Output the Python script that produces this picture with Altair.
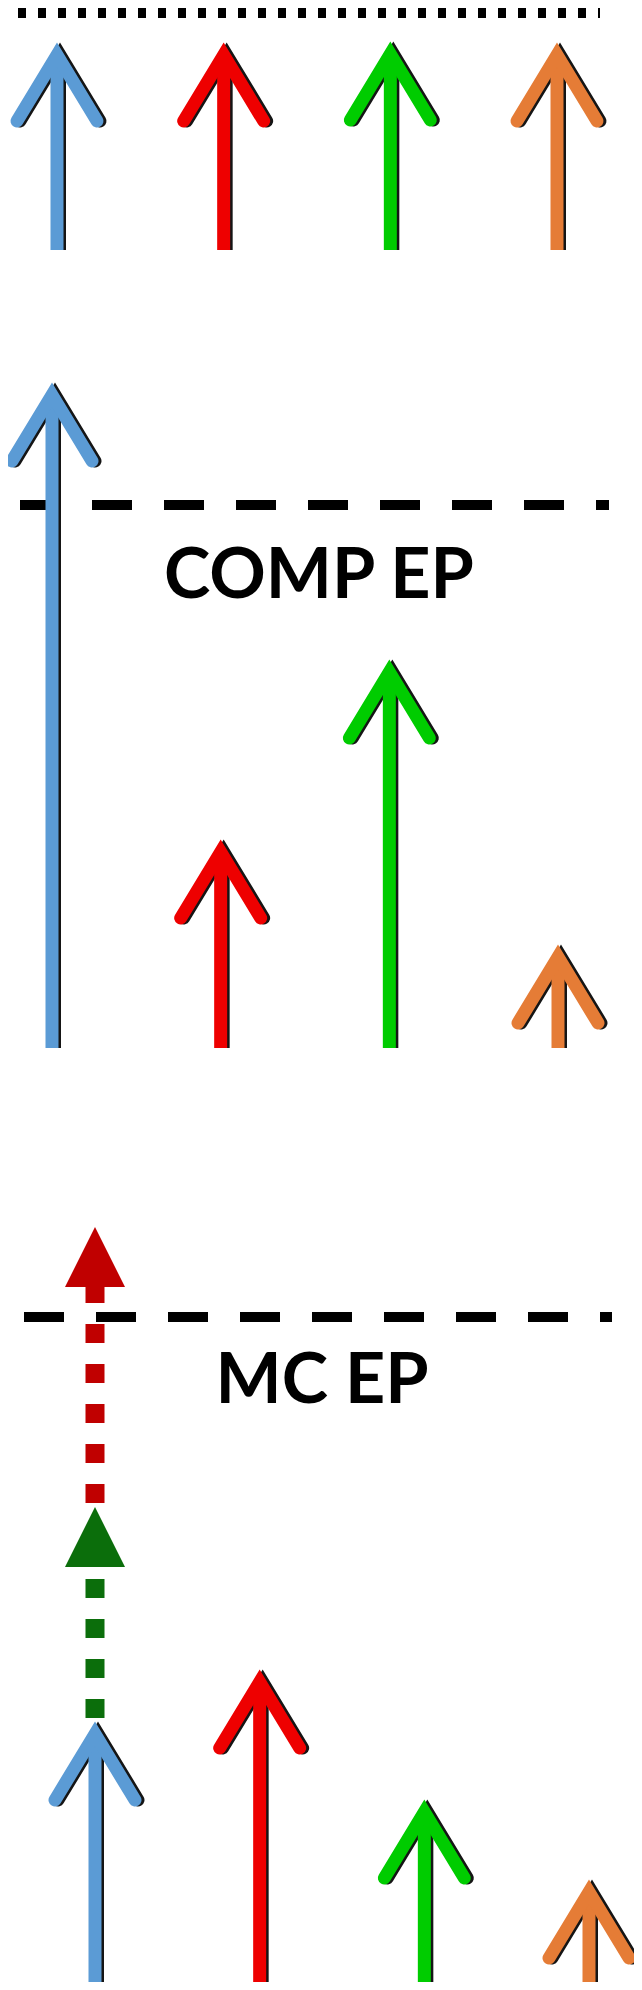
import altair as alt
import pandas as pd

# ---- data ----
ARROWS = ["A", "B", "C", "D"]
ARROW_COLORS = ["#5b9bd5", "#ee0000", "#00cc00", "#e57c36"]

TOP_LEVELS = [207, 207, 208, 207]
TOP_REFERENCE = 237

COMP_LEVELS = [665, 208, 388, 103]
COMP_REFERENCE = 543
COMP_LABEL = "COMP EP"
COMP_LABEL_LEVEL = 450

MC_LEVELS = [260, 312, 182, 102]
MC_REFERENCE = 665
MC_LABEL = "MC EP"
MC_LABEL_LEVEL = 579
MC_STEP_FROM = [264, 479]
MC_STEP_TO = [475, 755]
MC_STEP_COLORS = ["#0b6e0b", "#c00000"]

# ---- styles / layout ----
HEAD = "M-1,1.95L0,0.3L1,1.95"
TRIANGLE = "M-1,2L0,0L1,2Z"
W, H = 626, 1974
SHADOW = "#151515"


def yscale(baseline):
    # level 0 sits on the panel baseline, one level unit per pixel upward
    return alt.Scale(domain=[0, 1000], range=[baseline, baseline - 1000], nice=False, zero=False)


def xscale(a, b):
    return alt.Scale(type="point", domain=ARROWS, range=[a, b], padding=0)


def arrow_layers(levels, ys, xs):
    df = pd.DataFrame({"arrow": ARROWS, "level": levels, "base": [0] * len(levels)})
    base = alt.Chart(df).transform_calculate(neck="datum.level - 12")
    x = alt.X("arrow:N", scale=xs, axis=None)
    y_shaft = alt.Y("base:Q", scale=ys, axis=None)
    y_head = alt.Y("level:Q", scale=ys, axis=None)
    color = alt.Color("arrow:N", scale=alt.Scale(domain=ARROWS, range=ARROW_COLORS), legend=None)
    head_kw = dict(shape=HEAD, size=6400, filled=False, opacity=1, strokeWidth=13,
                   strokeCap="round", strokeJoin="miter")
    shadow_shaft = base.mark_rule(strokeWidth=12, xOffset=3, color=SHADOW).encode(
        x=x, y=y_shaft, y2="neck:Q")
    shadow_head = base.mark_point(xOffset=3, color=SHADOW, **head_kw).encode(x=x, y=y_head)
    shaft = base.mark_rule(strokeWidth=13).encode(x=x, y=y_shaft, y2="neck:Q", color=color)
    head = base.mark_point(**head_kw).encode(x=x, y=y_head, color=color)
    return [shadow_shaft, shadow_head, shaft, head]


def ref_line(level, x0, x1, ys, dash, width):
    return alt.Chart(pd.DataFrame({"level": [level]})).mark_rule(
        strokeDash=dash, strokeWidth=width, color="black", strokeCap="butt"
    ).encode(x=alt.value(x0), x2=alt.value(x1), y=alt.Y("level:Q", scale=ys, axis=None))


def label(text, level, xpos, ys):
    return alt.Chart(pd.DataFrame({"label": [text], "level": [level]})).mark_text(
        font="Lato", fontWeight="bold", fontSize=70, align="center",
        baseline="alphabetic", color="black"
    ).encode(x=alt.value(xpos), y=alt.Y("level:Q", scale=ys, axis=None), text="label:N")


# panel 1 (baseline at chart y 242)
ys1 = yscale(242)
xs1 = xscale(49, 549)
panel1 = [ref_line(TOP_REFERENCE, 10, 592, ys1, [8, 12], 10)] + arrow_layers(TOP_LEVELS, ys1, xs1)

# panel 2 (baseline at chart y 1040)
ys2 = yscale(1040)
xs2 = xscale(44, 550)
panel2 = ([ref_line(COMP_REFERENCE, 12, 601, ys2, [40, 32], 10)]
          + arrow_layers(COMP_LEVELS, ys2, xs2)
          + [label(COMP_LABEL, COMP_LABEL_LEVEL, 311, ys2)])

# panel 3 (baseline at chart bottom)
ys3 = yscale(1974)
xs3 = xscale(87, 581)
step_layers = []
for frm, to, col in zip(MC_STEP_FROM, MC_STEP_TO, MC_STEP_COLORS):
    sdf = pd.DataFrame({"arrow": ["A"], "from": [frm], "to": [to]})
    sb = alt.Chart(sdf).transform_calculate(base_of_head="datum.to - 57")
    sx = alt.X("arrow:N", scale=xs3, axis=None)
    step_layers.append(
        sb.mark_rule(strokeWidth=19, strokeDash=[19, 21], strokeCap="butt", color=col).encode(
            x=sx, y=alt.Y("from:Q", scale=ys3, axis=None), y2="base_of_head:Q")
    )
    step_layers.append(
        sb.mark_point(shape=TRIANGLE, size=3600, filled=True, opacity=1, color=col).encode(
            x=sx, y=alt.Y("to:Q", scale=ys3, axis=None))
    )
panel3 = ([ref_line(MC_REFERENCE, 16, 604, ys3, [40, 32], 10)]
          + arrow_layers(MC_LEVELS, ys3, xs3)
          + step_layers
          + [label(MC_LABEL, MC_LABEL_LEVEL, 314, ys3)])

chart = alt.layer(*(panel1 + panel2 + panel3)).resolve_scale(
    x="independent", y="independent", color="independent"
).properties(
    width=W, height=H, padding=0, autosize=alt.AutoSizeParams(type="none"),
    background="white"
).configure_view(stroke=None)

chart.save("out.html", embed_options={"renderer": "svg", "actions": False})
